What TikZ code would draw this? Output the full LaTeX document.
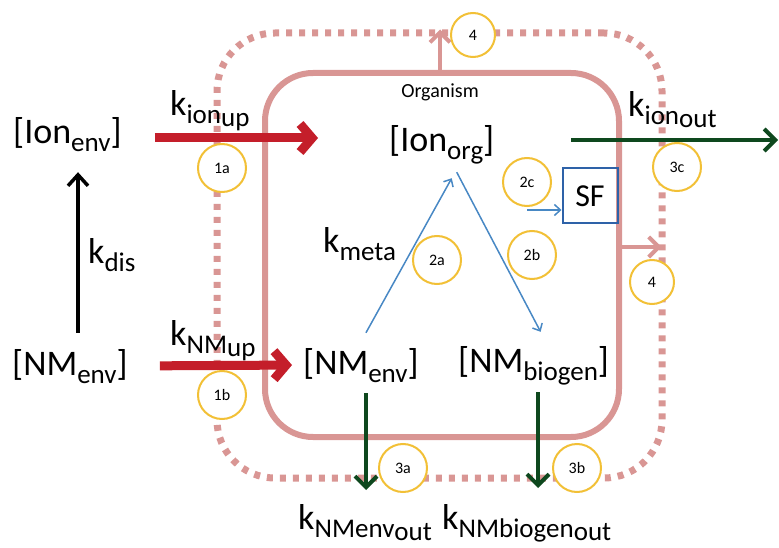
\documentclass[tikz,border=0pt]{standalone}
\usepackage{fontspec}
\setmainfont{Carlito}
\usetikzlibrary{arrows.meta}
\definecolor{orgpink}{RGB}{217,150,148}
\definecolor{upred}{RGB}{196,30,42}
\definecolor{outgreen}{RGB}{14,72,30}
\definecolor{metablue}{RGB}{72,136,196}
\definecolor{sfblue}{RGB}{46,98,168}
\definecolor{stepgold}{RGB}{242,192,54}
% concentration [X_y] and rate constant k_x_y
\newcommand{\conc}[2]{[#1\raisebox{-8pt}{\fontsize{27}{30}\selectfont #2}]}
\newcommand{\rate}[2]{k\raisebox{-8pt}{\fontsize{27}{30}\selectfont #1\raisebox{-3pt}{#2}}}
\tikzset{
    conc/.style={inner sep=0pt, anchor=base west, font=\fontsize{36}{40}\selectfont, text height=27pt, text depth=9pt},
    ratelbl/.style={inner sep=0pt, anchor=base west, font=\fontsize{36}{40}\selectfont},
    stepnum/.style={circle, draw=stepgold, line width=2pt, fill=white, minimum size=48pt, inner sep=0pt, font=\fontsize{16}{18}\selectfont},
    uparrow/.style={-{Straight Barb[length=12pt,width=28pt]}, line width=9pt, upred},
    outarrow/.style={-{Straight Barb[length=11pt,width=22pt]}, line width=4pt, outgreen},
    disarrow/.style={-{Straight Barb[length=11pt,width=20pt]}, line width=3.5pt, black},
    pinkarrow/.style={-{Straight Barb[length=10pt,width=20pt]}, line width=4pt, orgpink},
    metaarrow/.style={-{Straight Barb[length=6pt,width=11pt]}, line width=1.5pt, metablue},
}

\begin{document}
\begin{tikzpicture}[x=1pt, y=-1pt]
\useasboundingbox (0,0) rectangle (779,548);

% Compartments
\node[rectangle, rounded corners=58pt, draw=orgpink, line width=7pt, dash pattern=on 6pt off 7pt,
      minimum width=445pt, minimum height=445pt] (envbox) at (439.5,255.5) {};
\node[rectangle, rounded corners=48pt, draw=orgpink, line width=6pt,
      minimum width=354pt, minimum height=364pt] (org) at (442,255) {};
\node[font=\fontsize{20}{22}\selectfont] (orglbl) at (440,92) {Organism};

% Concentrations
\node[conc] (ionL) at (13,144) {\conc{Ion}{env}};
\node[conc] (nmL) at (12,375) {\conc{NM}{env}};
\node[conc] (iono) at (389,152) {\conc{Ion}{org}};
\node[conc] (nmI) at (303,374) {\conc{NM}{env}};
\node[conc] (nmB) at (458,372) {\conc{NM}{biogen}};
\node[draw=sfblue, line width=2pt, minimum width=55pt, minimum height=55pt, inner sep=0pt,
      font=\fontsize{32}{36}\selectfont] (sf) at (590,196) {SF};

% Rate constants
\node[ratelbl] (kup) at (170,116) {\rate{ion}{up}};
\node[ratelbl] (knm) at (170,345) {\rate{NM}{up}};
\node[ratelbl] (kout) at (628,117) {\rate{ion}{out}};
\node[ratelbl] (kdis) at (88,263) {\rate{dis}{}};
\node[ratelbl] (kmeta) at (323,252) {\rate{meta}{}};
\node[ratelbl] (kenv) at (298,529) {\rate{NMenv}{out}};
\node[ratelbl] (kbio) at (442,529) {\rate{NMbiogen}{out}};

% Free ends
\coordinate (dis) at (78,0);
\coordinate (ionIn) at (318,138);
\coordinate (ionOut) at (778,140);
\coordinate (envOut) at (366,490);
\coordinate (bioOut) at (538,488);
\coordinate (sfIn) at (527,210);

% Arrows
\draw[disarrow, shorten <=15pt, shorten >=19pt] (nmL.north -| dis) -- (ionL.south -| dis);
\draw[uparrow, shorten <=33pt] (ionL.east |- ionIn) -- (ionIn);
\draw[uparrow, shorten <=32pt, shorten >=11pt] (nmL.east) -- (nmI.west);
\draw[outarrow, shorten <=77pt] (iono.east |- ionOut) -- (ionOut);
\draw[outarrow, shorten <=10pt] (nmI.south -| envOut) -- (envOut);
\draw[outarrow, shorten <=11pt] (nmB.south -| bioOut) -- (bioOut);
\draw[metaarrow] ([xshift=5pt,yshift=14pt]nmI.north) -- ([xshift=10pt,yshift=-17pt]iono.south);
\draw[metaarrow] ([xshift=15pt,yshift=-11pt]iono.south) -- ([xshift=7pt,yshift=13pt]nmB.north);
\draw[metaarrow] (sfIn) -- (sfIn -| sf.west);
\draw[pinkarrow] ([xshift=-2pt]org.north) -- ([xshift=-2pt]org.north |- envbox.north);
\draw[pinkarrow, shorten >=4pt] ([yshift=8pt]org.east) -- ([yshift=8pt]org.east -| envbox.east);

% Steps
\node[stepnum] (s1a) at (222,168) {1a};
\node[stepnum] (s1b) at (222,395) {1b};
\node[stepnum] (s2a) at (437,260) {2a};
\node[stepnum] (s2b) at (532,255) {2b};
\node[stepnum] (s2c) at (527,182) {2c};
\node[stepnum] (s3a) at (403,468) {3a};
\node[stepnum] (s3b) at (577,468) {3b};
\node[stepnum] (s3c) at (677,167) {3c};
\node[stepnum, minimum size=44pt] (s4t) at (473,35) {4};
\node[stepnum, minimum size=44pt] (s4r) at (652,282) {4};

\end{tikzpicture}
\end{document}
